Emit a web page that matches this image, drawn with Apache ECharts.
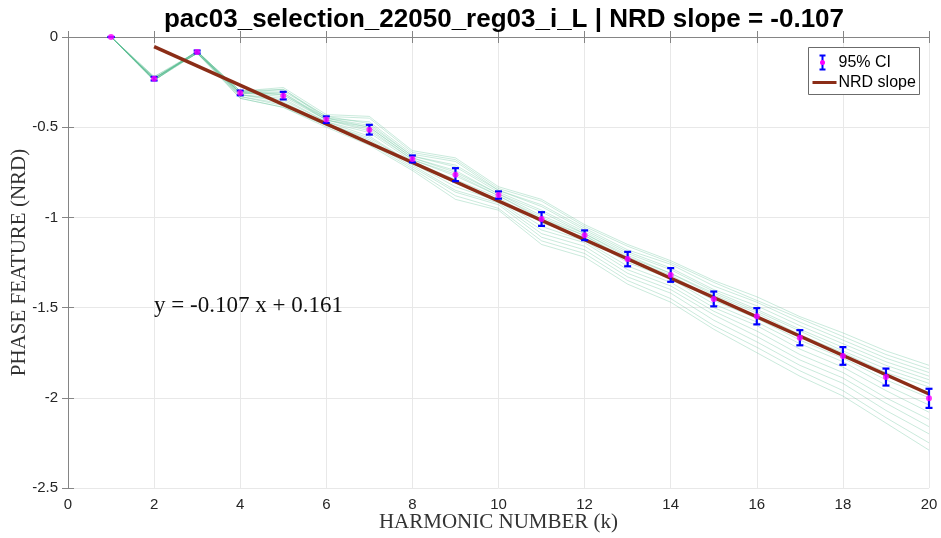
<!DOCTYPE html>
<html>
<head>
<meta charset="utf-8">
<script src="https://cdn.jsdelivr.net/npm/echarts@6/dist/echarts.min.js"></script>
<style>
  html, body { margin: 0; padding: 0; background: #fff; }
  #chart { width: 941px; height: 538px; }
</style>
</head>
<body>
<div id="chart"></div>
<script>
// Harmonic index k
const harmonics = [1, 2, 3, 4, 5, 6, 7, 8, 9, 10, 11, 12, 13, 14, 15, 16, 17, 18, 19, 20];

// Mean phase feature (NRD) across trials and its 95% CI half-width
const meanPhase = [0, -0.231, -0.083, -0.310, -0.325, -0.458, -0.514, -0.676, -0.763, -0.876,
                   -1.009, -1.099, -1.231, -1.319, -1.452, -1.548, -1.667, -1.768, -1.885, -2.003];
const ciHalf = [0, 0.010, 0.008, 0.013, 0.021, 0.018, 0.027, 0.019, 0.036, 0.020,
                0.038, 0.027, 0.040, 0.038, 0.041, 0.045, 0.042, 0.049, 0.047, 0.053];

// Individual trial curves
const trial01 = [0, -0.22, -0.08, -0.30, -0.28, -0.43, -0.44, -0.63, -0.67, -0.83, -0.90, -1.04, -1.15, -1.24, -1.35, -1.44, -1.55, -1.64, -1.74, -1.82];
const trial02 = [0, -0.23, -0.08, -0.30, -0.29, -0.44, -0.45, -0.64, -0.68, -0.84, -0.91, -1.05, -1.16, -1.25, -1.36, -1.46, -1.56, -1.66, -1.76, -1.84];
const trial03 = [0, -0.22, -0.09, -0.31, -0.29, -0.45, -0.47, -0.65, -0.69, -0.85, -0.93, -1.06, -1.18, -1.26, -1.38, -1.47, -1.58, -1.68, -1.78, -1.86];
const trial04 = [0, -0.23, -0.08, -0.30, -0.30, -0.44, -0.48, -0.66, -0.71, -0.85, -0.94, -1.07, -1.19, -1.28, -1.40, -1.49, -1.60, -1.70, -1.80, -1.88];
const trial05 = [0, -0.23, -0.09, -0.31, -0.31, -0.45, -0.49, -0.66, -0.72, -0.86, -0.96, -1.08, -1.20, -1.29, -1.41, -1.51, -1.62, -1.72, -1.82, -1.90];
const trial06 = [0, -0.24, -0.08, -0.31, -0.31, -0.46, -0.50, -0.67, -0.74, -0.87, -0.97, -1.09, -1.21, -1.31, -1.42, -1.52, -1.63, -1.74, -1.84, -1.92];
const trial07 = [0, -0.23, -0.09, -0.30, -0.32, -0.45, -0.50, -0.67, -0.75, -0.87, -0.99, -1.09, -1.22, -1.31, -1.43, -1.53, -1.65, -1.75, -1.86, -1.94];
const trial08 = [0, -0.23, -0.08, -0.31, -0.32, -0.46, -0.51, -0.68, -0.76, -0.88, -1.00, -1.10, -1.23, -1.32, -1.45, -1.55, -1.66, -1.77, -1.88, -1.97];
const trial09 = [0, -0.23, -0.09, -0.31, -0.33, -0.46, -0.52, -0.68, -0.77, -0.88, -1.01, -1.10, -1.24, -1.33, -1.46, -1.56, -1.68, -1.78, -1.90, -2.00];
const trial10 = [0, -0.24, -0.08, -0.32, -0.34, -0.47, -0.53, -0.69, -0.79, -0.89, -1.03, -1.11, -1.25, -1.34, -1.48, -1.58, -1.70, -1.80, -1.93, -2.04];
const trial11 = [0, -0.23, -0.09, -0.32, -0.35, -0.47, -0.55, -0.70, -0.81, -0.90, -1.05, -1.13, -1.27, -1.36, -1.50, -1.60, -1.73, -1.83, -1.96, -2.08];
const trial12 = [0, -0.24, -0.08, -0.32, -0.36, -0.48, -0.56, -0.70, -0.83, -0.91, -1.07, -1.14, -1.29, -1.38, -1.52, -1.63, -1.76, -1.86, -2.00, -2.12];
const trial13 = [0, -0.24, -0.09, -0.33, -0.37, -0.48, -0.57, -0.71, -0.85, -0.92, -1.09, -1.16, -1.31, -1.40, -1.54, -1.66, -1.79, -1.89, -2.03, -2.16];
const trial14 = [0, -0.23, -0.08, -0.33, -0.38, -0.49, -0.58, -0.72, -0.86, -0.93, -1.11, -1.18, -1.33, -1.42, -1.57, -1.69, -1.82, -1.92, -2.07, -2.20];
const trial15 = [0, -0.24, -0.09, -0.34, -0.39, -0.49, -0.59, -0.73, -0.88, -0.95, -1.13, -1.20, -1.35, -1.45, -1.60, -1.72, -1.85, -1.96, -2.11, -2.25];
const trial16 = [0, -0.24, -0.08, -0.34, -0.39, -0.50, -0.60, -0.74, -0.90, -0.96, -1.15, -1.22, -1.37, -1.47, -1.62, -1.75, -1.88, -1.99, -2.14, -2.29];
const trialCurves = [trial01, trial02, trial03, trial04, trial05, trial06, trial07, trial08,
                     trial09, trial10, trial11, trial12, trial13, trial14, trial15, trial16];

// Linear fit of the NRD slope, drawn over k = 2..20
const fitSlope = -0.107;
const fitIntercept = 0.161;
const fitRange = [2, 20];

const titleText = 'pac03_selection_22050_reg03_i_L | NRD slope = ' + fitSlope.toFixed(3);
const fitLabel = 'y = ' + fitSlope.toFixed(3) + ' x + ' + fitIntercept.toFixed(3);

const AXIS_GRAY = '#858585';
const GRID_GRAY = '#e8e8e8';
const TEXT_DARK = '#262626';
const SANS = '"Liberation Sans", Arial, Helvetica, sans-serif';
const SERIF = '"Liberation Serif", "DejaVu Serif", serif';

const chart = echarts.init(document.getElementById('chart'), null, { renderer: 'canvas' });

const trialSeries = trialCurves.map(function (curve) {
  return {
    type: 'line',
    data: harmonics.map(function (k, i) { return [k, curve[i]]; }),
    showSymbol: false,
    silent: true,
    animation: false,
    lineStyle: { color: 'rgba(95, 190, 150, 0.33)', width: 1 },
    z: 1
  };
});

const ciData = harmonics.map(function (k, i) {
  return [k, meanPhase[i] - ciHalf[i], meanPhase[i] + ciHalf[i]];
});

const baseX = {
  type: 'value', min: 0, max: 20, interval: 2,
  nameMoveOverlap: false,
  axisLine: { show: true, lineStyle: { color: AXIS_GRAY, width: 1 } },
  axisTick: { show: true, inside: true, length: 6, lineStyle: { color: AXIS_GRAY } },
  splitLine: { show: false }
};
const baseY = {
  type: 'value', min: -2.5, max: 0, interval: 0.5,
  nameMoveOverlap: false,
  axisLine: { show: true, lineStyle: { color: AXIS_GRAY, width: 1 } },
  axisTick: { show: true, inside: true, length: 6, lineStyle: { color: AXIS_GRAY } },
  splitLine: { show: false }
};

chart.setOption({
  animation: false,
  backgroundColor: '#ffffff',
  title: {
    text: titleText,
    left: 499, top: 2, textAlign: 'center',
    textStyle: { fontFamily: SANS, fontSize: 26, fontWeight: 'bold', color: '#000' }
  },
  grid: { left: 68, right: 12, top: 37, bottom: 50, containLabel: false, outerBoundsMode: 'none' },
  xAxis: [
    Object.assign({}, baseX, {
      position: 'bottom',
      name: 'HARMONIC NUMBER (k)', nameLocation: 'middle', nameGap: 24,
      nameTextStyle: { fontFamily: SERIF, fontSize: 21, color: '#333' },
      axisLabel: { show: true, margin: 9, fontFamily: SANS, fontSize: 15, color: TEXT_DARK },
      splitLine: { show: true, lineStyle: { color: GRID_GRAY, width: 1 } }
    }),
    Object.assign({}, baseX, { position: 'top', axisLabel: { show: false } })
  ],
  yAxis: [
    Object.assign({}, baseY, {
      position: 'left',
      name: 'PHASE FEATURE (NRD)', nameLocation: 'middle', nameGap: 38,
      nameTextStyle: { fontFamily: SERIF, fontSize: 21, color: '#333' },
      axisLabel: { show: true, margin: 10, fontFamily: SANS, fontSize: 15, color: TEXT_DARK },
      splitLine: { show: true, lineStyle: { color: GRID_GRAY, width: 1 } }
    }),
    Object.assign({}, baseY, { position: 'right', axisLabel: { show: false } })
  ],
  series: trialSeries.concat([
    {
      name: 'NRD slope',
      type: 'line',
      data: fitRange.map(function (x) { return [x, fitSlope * x + fitIntercept]; }),
      showSymbol: false,
      silent: true,
      lineStyle: { color: '#8b2d17', width: 3.5 },
      z: 3
    },
    {
      name: '95% CI',
      type: 'custom',
      data: ciData,
      clip: false,
      z: 4,
      renderItem: function (params, api) {
        const x = api.value(0);
        const pLo = api.coord([x, api.value(1)]);
        const pHi = api.coord([x, api.value(2)]);
        const cap = 3.5;
        const st = { stroke: '#0000ff', lineWidth: 2.2 };
        return {
          type: 'group',
          children: [
            { type: 'line', shape: { x1: pLo[0], y1: pLo[1], x2: pHi[0], y2: pHi[1] }, style: st },
            { type: 'line', shape: { x1: pLo[0] - cap, y1: pLo[1], x2: pLo[0] + cap, y2: pLo[1] }, style: st },
            { type: 'line', shape: { x1: pHi[0] - cap, y1: pHi[1], x2: pHi[0] + cap, y2: pHi[1] }, style: st }
          ]
        };
      }
    },
    {
      name: 'mean',
      type: 'scatter',
      data: harmonics.map(function (k, i) { return [k, meanPhase[i]]; }),
      symbol: 'circle',
      symbolSize: 6,
      clip: false,
      itemStyle: { color: '#ff00ff' },
      z: 5
    }
  ])
});

// Fit equation annotation and legend box
const eqPos = chart.convertToPixel({ gridIndex: 0 }, [2, -1.5]);
chart.setOption({
  graphic: [
    {
      type: 'text', left: eqPos[0], top: eqPos[1] - 13,
      style: { text: fitLabel, fontFamily: SERIF, fontSize: 23, fill: '#111' }
    },
    {
      type: 'group', left: 808, top: 47,
      children: [
        { type: 'rect', shape: { x: 0, y: 0, width: 111, height: 47 },
          style: { fill: '#fff', stroke: '#6b6b6b', lineWidth: 1 } },
        { type: 'line', shape: { x1: 14, y1: 8, x2: 14, y2: 22 }, style: { stroke: '#0000ff', lineWidth: 2 } },
        { type: 'line', shape: { x1: 11, y1: 8, x2: 17, y2: 8 }, style: { stroke: '#0000ff', lineWidth: 2 } },
        { type: 'line', shape: { x1: 11, y1: 22, x2: 17, y2: 22 }, style: { stroke: '#0000ff', lineWidth: 2 } },
        { type: 'circle', shape: { cx: 14, cy: 15, r: 2.5 }, style: { fill: '#ff00ff' } },
        { type: 'text', left: 30, top: 7,
          style: { text: '95% CI', fontFamily: SANS, fontSize: 16, fill: '#000' } },
        { type: 'line', shape: { x1: 4, y1: 35, x2: 28, y2: 35 }, style: { stroke: '#8b2d17', lineWidth: 3 } },
        { type: 'text', left: 30, top: 27,
          style: { text: 'NRD slope', fontFamily: SANS, fontSize: 16, fill: '#000' } }
      ]
    }
  ]
});
</script>
</body>
</html>
